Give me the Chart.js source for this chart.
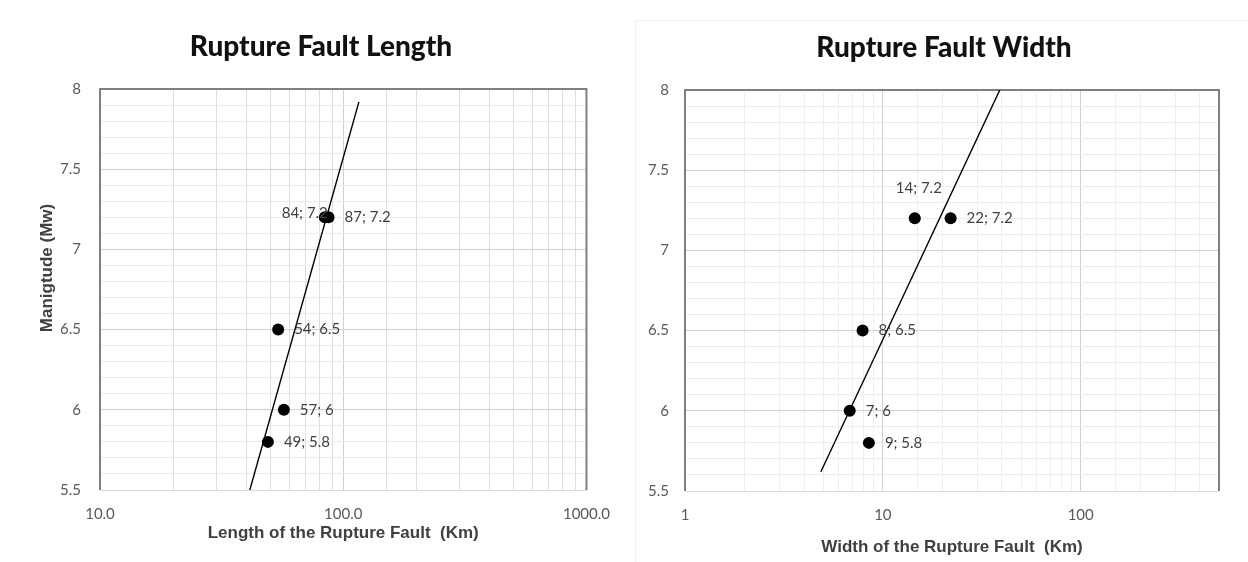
<!DOCTYPE html>
<html>
<head>
<meta charset="utf-8">
<title>Rupture Fault</title>
<script src="https://cdn.jsdelivr.net/npm/chart.js@4.4.1/dist/chart.umd.min.js"></script>
<style>
    html, body { margin: 0; padding: 0; background: #fff; }
    #frame { position: absolute; left: 635px; top: 20px; width: 612px; height: 541px; border-left: 1px solid #f0f0f0; border-top: 1px solid #f0f0f0; }
    #boxLength { position: absolute; left: 0; top: 0; width: 625px; height: 562px; }
    #boxWidth { position: absolute; left: 625px; top: 0; width: 623px; height: 562px; }
</style>
</head>
<body>
<div id="frame"></div>
<div id="boxLength"><canvas id="chartLength"></canvas></div>
<div id="boxWidth"><canvas id="chartWidth"></canvas></div>
<script>
    "use strict";
    // magnitude values shared by both charts
    const magnitudes = [7.2, 7.2, 6.5, 6, 5.8];

    // rupture length (km) and point labels
    const lengthValues = [84, 87, 54, 57, 49];
    const lengthLabels = ['84; 7.2', '87; 7.2', '54; 6.5', '57; 6', '49; 5.8'];
    const lengthTrendX = [41.3, 116];
    const lengthTrendY = [5.5, 7.92];

    // rupture width (km) and point labels
    const widthValues = [14.5, 22, 7.9, 6.8, 8.5];
    const widthLabels = ['14; 7.2', '22; 7.2', '8; 6.5', '7; 6', '9; 5.8'];
    const widthTrendX = [4.86, 39];
    const widthTrendY = [5.62, 8];

    const isDecade = function (v) {
        const l = Math.log10(v);
        return Math.abs(l - Math.round(l)) < 1e-9;
    };
    const isHalf = function (v) {
        return Math.abs(v * 2 - Math.round(v * 2)) < 1e-6;
    };

    const faultText = {
        id: 'faultText',
        beforeDatasetsDraw: function (chart) {
            const ctx = chart.ctx;
            const a = chart.chartArea;
            ctx.save();
            ctx.lineWidth = 1;
            ctx.strokeStyle = '#d9d9d9';
            ctx.beginPath();
            ctx.moveTo(a.left, a.bottom + 0.5);
            ctx.lineTo(a.right, a.bottom + 0.5);
            ctx.stroke();
            ctx.lineWidth = 2;
            ctx.strokeStyle = '#7f7f7f';
            ctx.beginPath();
            ctx.moveTo(a.left, a.bottom);
            ctx.lineTo(a.left, a.top);
            ctx.lineTo(a.right, a.top);
            ctx.lineTo(a.right, a.bottom);
            ctx.stroke();
            ctx.restore();
        },
        afterDatasetsDraw: function (chart, args, opts) {
            const ctx = chart.ctx;
            const meta = chart.getDatasetMeta(0);
            ctx.save();
            ctx.font = '15px Lato';
            ctx.fillStyle = '#404040';
            ctx.textBaseline = 'middle';
            meta.data.forEach(function (el, i) {
                const place = opts.places[i];
                if (place === 'left') {
                    ctx.textAlign = 'right';
                    ctx.fillText(opts.labels[i], el.x + 3, el.y - 4);
                } else if (place === 'above') {
                    ctx.textAlign = 'center';
                    ctx.fillText(opts.labels[i], el.x + 4, el.y - 30);
                } else {
                    ctx.textAlign = 'left';
                    ctx.fillText(opts.labels[i], el.x + 16, el.y);
                }
            });
            ctx.restore();
        },
        afterDraw: function (chart, args, opts) {
            const ctx = chart.ctx;
            const a = chart.chartArea;
            ctx.save();
            ctx.fillStyle = '#111';
            ctx.textAlign = 'center';
            ctx.textBaseline = 'middle';
            ctx.font = '900 28px Lato';
            ctx.fillText(opts.title, opts.titleX, opts.titleY);
            ctx.fillStyle = '#404040';
            ctx.font = 'bold 17px "Liberation Sans"';
            ctx.fillText(opts.xTitle, (a.left + a.right) / 2, opts.xTitleY);
            if (opts.yTitle) {
                ctx.translate(opts.yTitleX, opts.yTitleY);
                ctx.rotate(-Math.PI / 2);
                ctx.fillText(opts.yTitle, 0, 0);
            }
            ctx.restore();
        }
    };

    function makeChart(id, cfg) {
        const context = document.getElementById(id).getContext('2d');
        return new Chart(context, {
            type: 'scatter',
            data: {
                datasets: [{
                    label: 'Data',
                    data: cfg.xs.map(function (x, i) {
                        return { x: x, y: magnitudes[i] };
                    }),
                    pointRadius: 6,
                    pointHoverRadius: 6,
                    pointBackgroundColor: '#000',
                    pointBorderColor: '#000',
                    pointBorderWidth: 0,
                    showLine: false
                }, {
                    label: 'Trend',
                    data: cfg.trendX.map(function (x, i) {
                        return { x: x, y: cfg.trendY[i] };
                    }),
                    showLine: true,
                    borderColor: '#000',
                    borderWidth: 1.4,
                    pointRadius: 0,
                    fill: false
                }]
            },
            options: {
                responsive: true,
                maintainAspectRatio: false,
                animation: false,
                layout: {
                    padding: { left: 0, right: cfg.padRight, top: cfg.padTop, bottom: 0 }
                },
                scales: {
                    x: {
                        type: 'logarithmic',
                        min: cfg.xMin,
                        max: cfg.xMax,
                        afterFit: function (s) { s.height = cfg.xHeight; },
                        border: { display: false },
                        grid: {
                            drawTicks: false,
                            color: function (c) {
                                return isDecade(c.tick.value) ? '#d0d0d0' : cfg.minorX;
                            }
                        },
                        ticks: {
                            autoSkip: false,
                            maxRotation: 0,
                            padding: 15,
                            color: '#595959',
                            font: { family: 'Lato', size: 15 },
                            callback: function (v) {
                                return isDecade(v) ? cfg.xFormat(v) : '';
                            }
                        }
                    },
                    y: {
                        type: 'linear',
                        min: 5.5,
                        max: 8,
                        afterFit: function (s) { s.width = cfg.yWidth; },
                        border: { display: false },
                        grid: {
                            drawTicks: false,
                            color: function (c) {
                                return isHalf(c.tick.value) ? '#d0d0d0' : '#ebebeb';
                            }
                        },
                        ticks: {
                            stepSize: 0.1,
                            autoSkip: false,
                            maxTicksLimit: 100,
                            padding: cfg.yPad,
                            color: '#595959',
                            font: { family: 'Lato', size: 15 },
                            callback: function (v) {
                                return isHalf(v) ? String(Math.round(v * 2) / 2) : '';
                            }
                        }
                    }
                },
                plugins: {
                    legend: { display: false },
                    tooltip: { enabled: false },
                    faultText: cfg.text
                }
            },
            plugins: [faultText]
        });
    }

    makeChart('chartLength', {
        xs: lengthValues,
        trendX: lengthTrendX,
        trendY: lengthTrendY,
        xMin: 10,
        xMax: 1000,
        xFormat: function (v) { return v.toFixed(1); },
        minorX: '#dedede',
        padRight: 38,
        padTop: 89,
        xHeight: 72,
        yWidth: 100,
        yPad: 19,
        text: {
            title: 'Rupture Fault Length',
            titleX: 321,
            titleY: 47,
            xTitle: 'Length of the Rupture Fault  (Km)',
            xTitleY: 533,
            yTitle: 'Manigtude (Mw)',
            yTitleX: 47,
            yTitleY: 268,
            labels: lengthLabels,
            places: ['left', 'right', 'right', 'right', 'right']
        }
    });

    makeChart('chartWidth', {
        xs: widthValues,
        trendX: widthTrendX,
        trendY: widthTrendY,
        xMin: 1,
        xMax: 500,
        xFormat: function (v) { return String(v); },
        minorX: '#efefef',
        padRight: 29,
        padTop: 90,
        xHeight: 71,
        yWidth: 60,
        yPad: 16,
        text: {
            title: 'Rupture Fault Width',
            titleX: 319,
            titleY: 48,
            xTitle: 'Width of the Rupture Fault  (Km)',
            xTitleY: 547,
            yTitle: null,
            labels: widthLabels,
            places: ['above', 'right', 'right', 'right', 'right']
        }
    });
</script>
</body>
</html>
